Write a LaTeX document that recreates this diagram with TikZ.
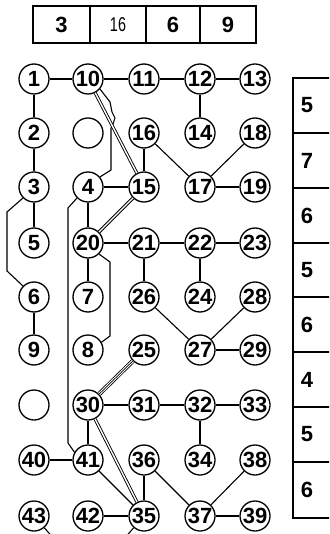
\documentclass[tikz,border=0pt]{standalone}
\usepackage{fontspec}
\usepackage{graphicx}
\setmainfont{Liberation Sans}
\begin{document}
\begin{tikzpicture}[x=1pt,y=-1pt,
  nd/.style={circle,draw,line width=1.3pt,minimum size=30pt,inner sep=0pt,font=\bfseries\fontsize{22}{22}\selectfont},
  ln/.style={line width=1.1pt},
  dbl/.style={double,double distance=1.4pt,line width=0.9pt},
  trp/.style={double,double distance=2.8pt,line width=0.8pt},
  mid/.style={line width=0.7pt},
  boxl/.style={line width=1.2pt},
  lbl/.style={font=\bfseries\fontsize{22}{22}\selectfont,inner sep=0pt}]
\useasboundingbox (0,0) rectangle (329,534);
\clip (0,0) rectangle (329,534);
% nodes
\foreach \nm/\xx/\yy in {
  1/34/79, 10/88/79, 11/144/79, 12/200/79, 13/255/79,
  2/34/133, 16/144/133, 14/200/133, 18/255/133,
  3/34/187, 4/88/187, 15/144/187, 17/200/187, 19/255/187,
  5/34/243, 20/88/243, 21/144/243, 22/200/243, 23/255/243,
  6/34/297, 7/88/297, 26/144/297, 24/200/297, 28/255/297,
  9/34/350, 8/88/350, 25/144/350, 27/200/350, 29/255/350,
  30/88/405, 31/144/405, 32/200/405, 33/255/405,
  40/34/460, 41/88/460, 36/144/460, 34/200/460, 38/255/460,
  43/34/516, 42/88/516, 35/144/516, 37/200/516, 39/255/516}
  \node[nd] (n\nm) at (\xx,\yy) {\nm};
\node[nd] (e1) at (88,133) {};
\node[nd] (e2) at (34,405) {};
% off-picture ends
\coordinate (o43) at (62,548);
\coordinate (o35) at (116,548);
% plain connectors
\foreach \a/\b in {1/10,10/11,11/12,12/13,1/2,2/3,3/5,6/9,12/14,16/15,16/17,18/17,17/19,
  4/15,4/20,20/21,20/7,21/22,22/23,21/26,22/24,26/27,28/27,27/29,
  30/31,31/32,32/33,32/34,30/41,40/41,41/35,36/35,36/37,38/37,37/39,42/35}
  \draw[ln] (n\a) -- (n\b);
\draw[ln] (n43) -- (o43);
\draw[ln] (n35) -- (o35);
% routed connectors
\draw[ln] (n3.225) -- (7,212) -- (7,271) -- (n6.135);
\draw[ln] (n4.225) -- (68,208) -- (68,443) -- (n41.150);
\draw[ln] (n20.-45) -- (110,262) -- (110,336) -- (n8.30);
\draw[ln] (n10.-40) -- (110,102) -- (112,112) -- (115,118) -- (113,124) -- (111,128) -- (111,170) -- (n4.40);
% double and triple connectors
\draw[dbl] (n10) -- (n15);
\draw[dbl] (n15) -- (n20);
\draw[dbl] (n30) -- (n35);
\draw[trp] (n25) -- (n30);
\draw[mid] (n25) -- (n30);
% top box
\draw[boxl] (33,6) rectangle (256,43);
\draw[boxl] (90,6) -- (90,43) (146,6) -- (146,43) (200,6) -- (200,43);
\node[lbl] (t1) at (61.5,24.5) {3};
\node[inner sep=0pt,font=\fontsize{20}{20}\selectfont] (t2) at (118,24.5) {\scalebox{0.72}[1]{16}};
\node[lbl] (t3) at (173,24.5) {6};
\node[lbl] (t4) at (228,24.5) {9};
% right box
\draw[boxl] (340,78) -- (293,78) -- (293,518) -- (340,518);
\foreach \yy in {133,188,243,297,352,407,462}
  \draw[ln] (293,\yy) -- (340,\yy);
\foreach \nm/\yy/\tx in {r1/105.5/5, r2/160.5/7, r3/215.5/6, r4/270/5, r5/324.5/6, r6/379.5/4, r7/434.5/5, r8/490/6}
  \node[lbl] (\nm) at (307,\yy) {\tx};
\end{tikzpicture}
\end{document}
